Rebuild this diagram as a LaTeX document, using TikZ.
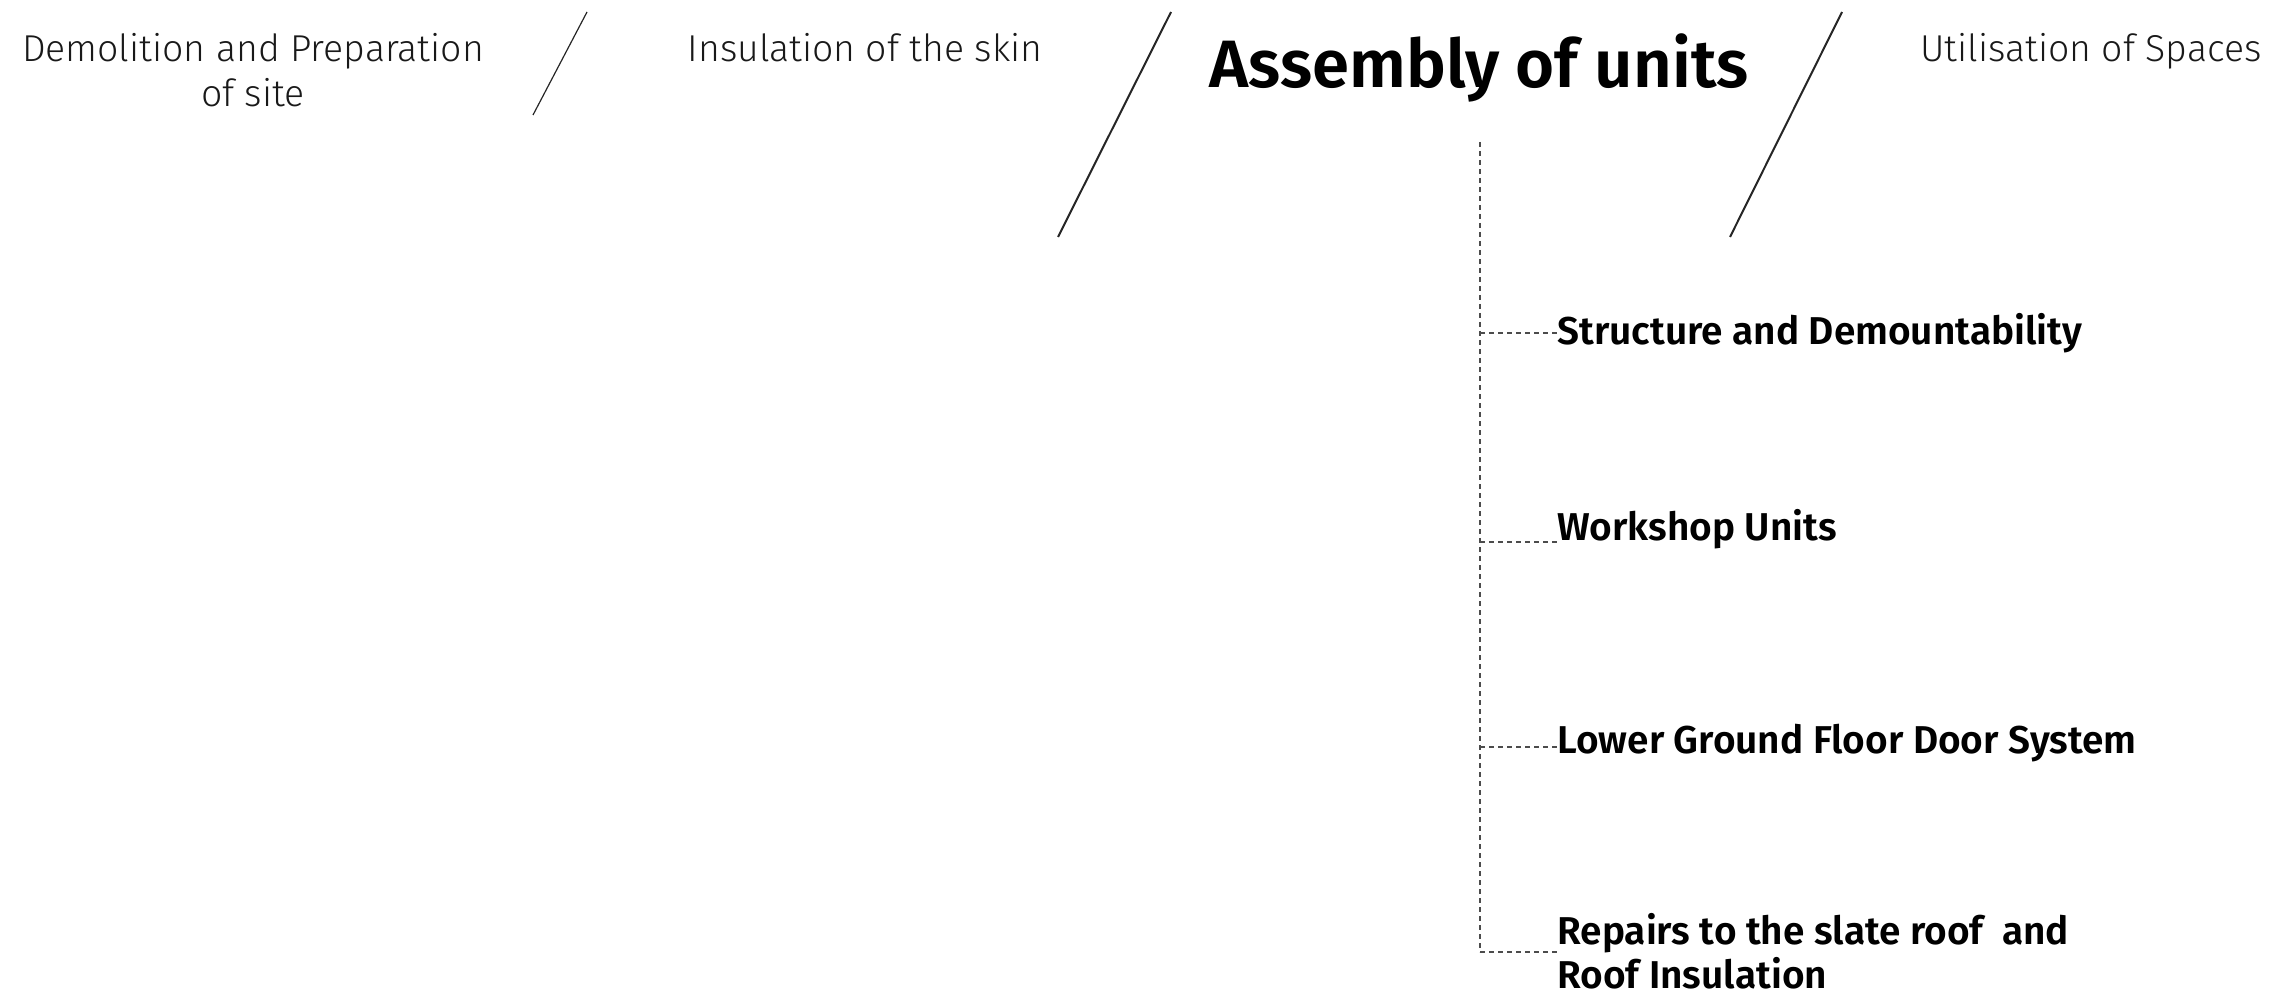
\documentclass[tikz,border=0pt]{standalone}
\usepackage{fontspec}
\setmainfont{Fira Sans}
\newfontfamily\lightf{Fira Sans Light}
\newfontfamily\semibf{Fira Sans SemiBold}
\begin{document}
\begin{tikzpicture}[x=0.5pt,y=-0.5pt,
  phase/.style={inner sep=0pt,font=\lightf\fontsize{18.7}{22.5}\selectfont,text=black!90,align=center},
  mainphase/.style={inner sep=0pt,font=\semibf\fontsize{33.5}{38}\selectfont,text=black},
  item/.style={inner sep=0pt,anchor=west,font=\semibf\fontsize{19.4}{21.8}\selectfont,text=black,align=left},
  slash/.style={line width=1pt,draw=black!85},
  dashline/.style={draw=black!70,line width=0.6pt,dash pattern=on 2.5pt off 2pt}]
\useasboundingbox (0,0) rectangle (2278,994);
% phases
\node[phase] (p1) at (253,70) {Demolition and Preparation\\of site};
\node[phase] (p2) at (865,48) {Insulation of the skin};
\node[mainphase] (p3) at (1479,68) {Assembly of units};
\node[phase] (p4) at (2091,51) {Utilisation of Spaces};
% slashes
\draw[slash,line width=0.6pt] (587,12) -- (533,115);
\draw[slash] (1171,12) -- (1058,237);
\draw[slash] (1842,12) -- (1730,237);
% items
\node[item] (i1) at (1557,333) {Structure and Demountability};
\node[item] (i2) at (1557,529) {Workshop Units};
\node[item] (i3) at (1557,743) {Lower Ground Floor Door System};
\node[item] (i4) at (1557,951) {Repairs to the slate roof\ \ and\\Roof Insulation};
% tree
\coordinate (top) at (1480,142);
\coordinate (b1) at (1480,333);
\coordinate (b2) at (1480,542);
\coordinate (b3) at (1480,747);
\coordinate (b4) at (1480,952);
\draw[dashline] (top) -- (b4);
\draw[dashline] (b1) -- (i1.west |- b1);
\draw[dashline] (b2) -- (i2.west |- b2);
\draw[dashline] (b3) -- (i3.west |- b3);
\draw[dashline] (b4) -- (i4.west |- b4);
\end{tikzpicture}
\end{document}
